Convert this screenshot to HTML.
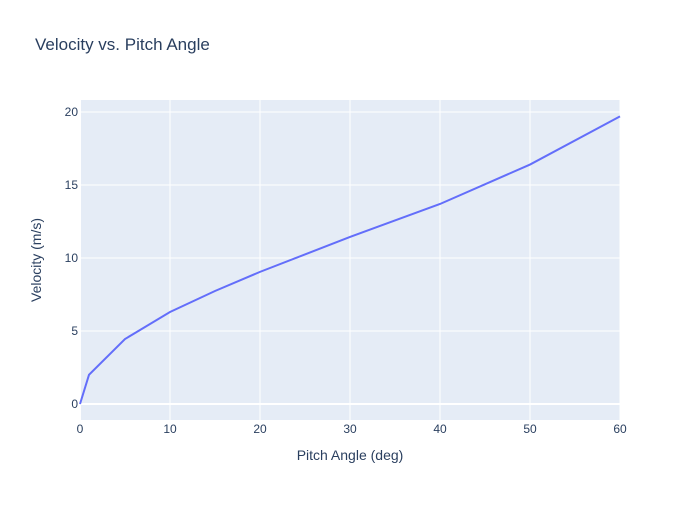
<!DOCTYPE html>
<html><head><meta charset="utf-8"><style>
body{margin:0;background:#fff;font-family:"Liberation Sans",sans-serif;}
</style></head><body>
<svg id="chart" width="700" height="500" xmlns="http://www.w3.org/2000/svg">
<rect width="700" height="500" fill="#fff"/>
<text x="35" y="50" font-size="17" fill="#2a3f5f">Velocity vs. Pitch Angle</text>
<rect x="80" y="100" width="540" height="320" fill="#e5ecf6"/>
<g id="grid"></g>
<g id="ticks" font-size="12" fill="#2a3f5f"></g>
<path id="line" fill="none" stroke="#636efa" stroke-width="2"/>
<text x="350" y="460" font-size="14" fill="#2a3f5f" text-anchor="middle">Pitch Angle (deg)</text>
<text x="41" y="260" font-size="14" fill="#2a3f5f" text-anchor="middle" transform="rotate(-90 41 260)">Velocity (m/s)</text>
</svg>
<script>
const pitchAngles=[0,1,5,10,15,20,30,40,50,60];
const velocities=[0,2.0,4.45,6.3,7.74,9.05,11.44,13.7,16.4,19.7];
const xTicks=[0,10,20,30,40,50,60];
const yTicks=[0,5,10,15,20];
const xs=v=>80+v*9;
const ys=v=>404-v*14.6;
const NS="http://www.w3.org/2000/svg";
const grid=document.getElementById('grid'),ticks=document.getElementById('ticks');
xTicks.forEach(t=>{
 const l=document.createElementNS(NS,'line');
 l.setAttribute('x1',xs(t));l.setAttribute('x2',xs(t));l.setAttribute('y1',100);l.setAttribute('y2',420);
 l.setAttribute('stroke','#fff');l.setAttribute('stroke-width',t===0?2:1);
 
 
 grid.appendChild(l);
 const tx=document.createElementNS(NS,'text');
 tx.setAttribute('x',xs(t));tx.setAttribute('y',433);tx.setAttribute('text-anchor','middle');tx.textContent=t;
 
 
 ticks.appendChild(tx);
});
yTicks.forEach(t=>{
 const l=document.createElementNS(NS,'line');
 l.setAttribute('x1',80);l.setAttribute('x2',620);l.setAttribute('y1',ys(t));l.setAttribute('y2',ys(t));
 l.setAttribute('stroke','#fff');l.setAttribute('stroke-width',t===0?2:1);
 
 
 grid.appendChild(l);
 const tx=document.createElementNS(NS,'text');
 tx.setAttribute('x',78);tx.setAttribute('y',ys(t)+4);tx.setAttribute('text-anchor','end');tx.textContent=t;
 
 
 ticks.appendChild(tx);
});
document.getElementById('line').setAttribute('d',pitchAngles.map((a,i)=>(i?'L':'M')+xs(a)+','+ys(velocities[i])).join(''));
</script>
</body></html>
